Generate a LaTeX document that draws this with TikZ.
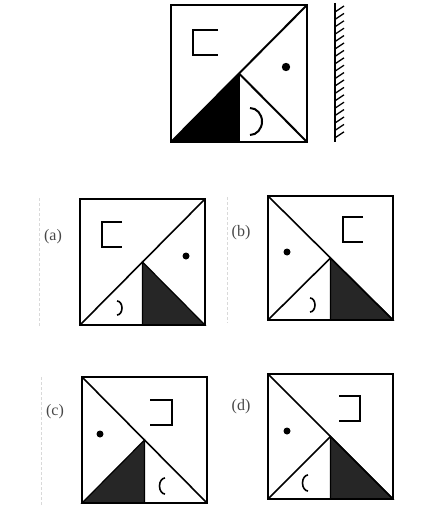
\documentclass[tikz,border=0pt]{standalone}
\usepackage{fontspec}
\setmainfont{Liberation Serif}
\begin{document}
\begin{tikzpicture}[x=1pt,y=-1pt,
  frame/.style={draw=black,line width=2.2pt},
  inner/.style={draw=black,line width=1.6pt},
  topline/.style={draw=black,line width=2pt},
  shade/.style={fill=black!85,draw=black,line width=1.2pt},
  sym/.style={draw=black,line width=1.6pt},
  lab/.style={font=\fontsize{16}{18}\selectfont,text=black!72,inner sep=0pt},
  sep/.style={draw=black!15,line width=0.6pt,dash pattern=on 3pt off 2pt}]
\useasboundingbox (0,0) rectangle (436,513);

% ---- top figure ----
\coordinate (tTL) at (171,5); \coordinate (tBR) at (307,142);
\coordinate (tBL) at (171,142); \coordinate (tTR) at (307,5);
\coordinate (tC) at (239,73.5); \coordinate (tB) at (239,142);
\fill[black] (tBL) -- (tC) -- (tB) -- cycle;
\draw[topline] (tBL) -- (tTR);
\draw[topline] (tC) -- (tB);
\draw[topline] (tC) -- (tBR);
\draw[frame] (tTL) rectangle (tBR);
\draw[sym,line width=2pt] (218,30) -- (193,30) -- (193,55) -- (218,55);
\fill (286,67) circle (4.2);
\draw[sym,line width=2pt] (250,108) arc[start angle=-90,end angle=90,x radius=12,y radius=13.5];
% mirror wall
\coordinate (wT) at (335,3); \coordinate (wB) at (335,142);
\draw[line width=2pt] (wT) -- (wB);
\foreach \i in {0,...,17} {
  \draw[line width=1.3pt] (335,{12+\i*7.4}) -- ++(9,-6);
}

% ---- option (a) ----
\draw[sep] (39,198) -- (39,327);
\node[lab] (la) at (53,237) {(a)};
\coordinate (aTL) at (80,199); \coordinate (aBR) at (205,325);
\coordinate (aBL) at (80,325); \coordinate (aTR) at (205,199);
\coordinate (aC) at (142.5,262); \coordinate (aB) at (142.5,325);
\filldraw[shade] (aC) -- (aB) -- (aBR) -- cycle;
\draw[inner] (aBL) -- (aTR);
\draw[inner] (aC) -- (aB);
\draw[frame] (aTL) rectangle (aBR);
\draw[sym] (122,222) -- (102,222) -- (102,247) -- (122,247);
\fill (186,256) circle (3.5);
\draw[sym] (117,301) arc[start angle=-90,end angle=90,x radius=5,y radius=7];

% ---- option (b) ----
\draw[sep] (227,197) -- (227,323);
\node[lab] (lb) at (241,233) {(b)};
\coordinate (bTL) at (268,196); \coordinate (bBR) at (393,320);
\coordinate (bBL) at (268,320); \coordinate (bTR) at (393,196);
\coordinate (bC) at (330.5,258); \coordinate (bB) at (330.5,320);
\filldraw[shade] (bC) -- (bB) -- (bBR) -- cycle;
\draw[inner] (bTL) -- (bBR);
\draw[inner] (bC) -- (bBL);
\draw[inner] (bC) -- (bB);
\draw[frame] (bTL) rectangle (bBR);
\draw[sym] (363,217) -- (343,217) -- (343,242) -- (363,242);
\fill (287,252) circle (3.5);
\draw[sym] (310,298) arc[start angle=-90,end angle=90,x radius=5,y radius=7];

% ---- option (c) ----
\draw[sep] (41,377) -- (41,505);
\node[lab] (lc) at (55,412) {(c)};
\coordinate (cTL) at (82,377); \coordinate (cBR) at (207,503);
\coordinate (cBL) at (82,503); \coordinate (cTR) at (207,377);
\coordinate (cC) at (144.5,440); \coordinate (cB) at (144.5,503);
\filldraw[shade] (cBL) -- (cC) -- (cB) -- cycle;
\draw[inner] (cTL) -- (cBR);
\draw[inner] (cC) -- (cB);
\draw[frame] (cTL) rectangle (cBR);
\draw[sym] (150,400) -- (172,400) -- (172,425) -- (150,425);
\fill (100,434) circle (3.5);
\draw[sym] (165,478) arc[start angle=-90,end angle=-270,x radius=5.5,y radius=8];

% ---- option (d) ----
\node[lab] (ld) at (241,407) {(d)};
\coordinate (dTL) at (268,374); \coordinate (dBR) at (393,499);
\coordinate (dBL) at (268,499); \coordinate (dTR) at (393,374);
\coordinate (dC) at (330.5,436.5); \coordinate (dB) at (330.5,499);
\filldraw[shade] (dC) -- (dB) -- (dBR) -- cycle;
\draw[inner] (dTL) -- (dBR);
\draw[inner] (dC) -- (dBL);
\draw[inner] (dC) -- (dB);
\draw[frame] (dTL) rectangle (dBR);
\draw[sym] (339,396) -- (360,396) -- (360,421) -- (339,421);
\fill (287,431) circle (3.5);
\draw[sym] (308,475) arc[start angle=-90,end angle=-270,x radius=5.5,y radius=8];
\end{tikzpicture}
\end{document}
